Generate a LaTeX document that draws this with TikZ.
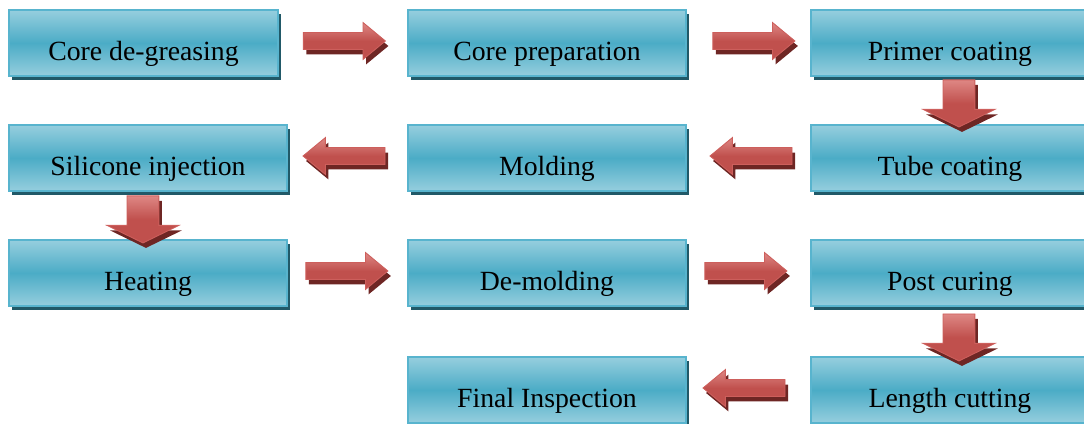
\documentclass[tikz,border=0pt]{standalone}
\usepackage{fontspec}
\setmainfont{Liberation Serif}
\usepackage{tikz}
\usetikzlibrary{positioning,calc,shapes.arrows,shadows}
\tikzset{
  stepbox/.style={draw=boxedge, line width=0.04cm, top color=boxlight,
    bottom color=boxlight, middle color=boxmid, minimum width=5.56cm,
    inner sep=0pt, text height=1.02cm, text depth=0.30cm, anchor=north west,
    font=\fontsize{15.8}{18}\selectfont,
    drop shadow={shadow xshift=0.06cm, shadow yshift=-0.08cm, fill=boxshadow, opacity=1}},
  blockarr/.style={single arrow, draw=arrowedge, line width=0.5pt, top color=arrowlight,
    bottom color=arrowmid, middle color=arrowmid, anchor=tail,
    drop shadow={shadow xshift=0.06cm, shadow yshift=-0.1cm, fill=arrowshadow, opacity=1}},
  flatarr/.style={blockarr, inner sep=0.16cm, minimum height=1.64cm,
    single arrow head extend=0.2cm, single arrow tip angle=79},
  backarr/.style={flatarr, shape border rotate=180},
  droparr/.style={blockarr, inner sep=0.31cm, minimum height=0.94cm,
    single arrow head extend=0.4cm, single arrow tip angle=128, shape border rotate=270},
}
\definecolor{boxlight}{RGB}{150,206,222}
\definecolor{boxmid}{RGB}{75,172,198}
\definecolor{boxedge}{RGB}{88,180,206}
\definecolor{boxshadow}{RGB}{33,89,104}
\definecolor{arrowlight}{RGB}{222,135,132}
\definecolor{arrowmid}{RGB}{192,80,77}
\definecolor{arrowedge}{RGB}{205,95,92}
\definecolor{arrowshadow}{RGB}{110,38,36}

\begin{document}
\begin{tikzpicture}[x=0.02cm, y=-0.02cm]
  \useasboundingbox (0,0) rectangle (1084,423);
  % process steps
  \foreach \nm/\x/\y/\w/\lab in {cdg/8/9/5.38cm/{Core de-greasing},
      cprep/407/9/5.56cm/{Core preparation}, primer/810/9/5.56cm/{Primer coating},
      sil/8/124/5.56cm/{Silicone injection}, mold/407/124/5.56cm/{Molding},
      tube/810/124/5.56cm/{Tube coating}, heat/8/239/5.56cm/{Heating},
      demold/407/239/5.56cm/{De-molding}, post/810/239/5.56cm/{Post curing},
      final/407/356/5.56cm/{Final Inspection}, cut/810/356/5.56cm/{Length cutting}} {
    \node[stepbox, minimum width=\w] (\nm) at (\x,\y) {\lab};
  }
  % block arrows, placed by their tails
  \node[flatarr] (a1) at ($(cdg.east)!0.5!(cprep.west)+(-40,-2)$) {};
  \node[flatarr] (a2) at ($(cprep.east)!0.5!(primer.west)+(-36,-2)$) {};
  \node[droparr] (d1) at ($(primer.south)!0.5!(tube.north)+(9,-21)$) {};
  \node[backarr] (a3) at ($(tube.west)!0.5!(mold.east)+(44,-2)$) {};
  \node[backarr] (a4) at ($(mold.west)!0.5!(sil.east)+(38,-2)$) {};
  \node[droparr] (d2) at ($(sil.south)!0.5!(heat.north)+(-5,-20)$) {};
  \node[flatarr] (a5) at ($(heat.east)!0.5!(demold.west)+(-42,-2)$) {};
  \node[flatarr] (a6) at ($(demold.east)!0.5!(post.west)+(-44,-2)$) {};
  \node[droparr] (d3) at ($(post.south)!0.5!(cut.north)+(9,-18)$) {};
  \node[backarr] (a7) at ($(cut.west)!0.5!(final.east)+(37,-2)$) {};
\end{tikzpicture}
\end{document}
